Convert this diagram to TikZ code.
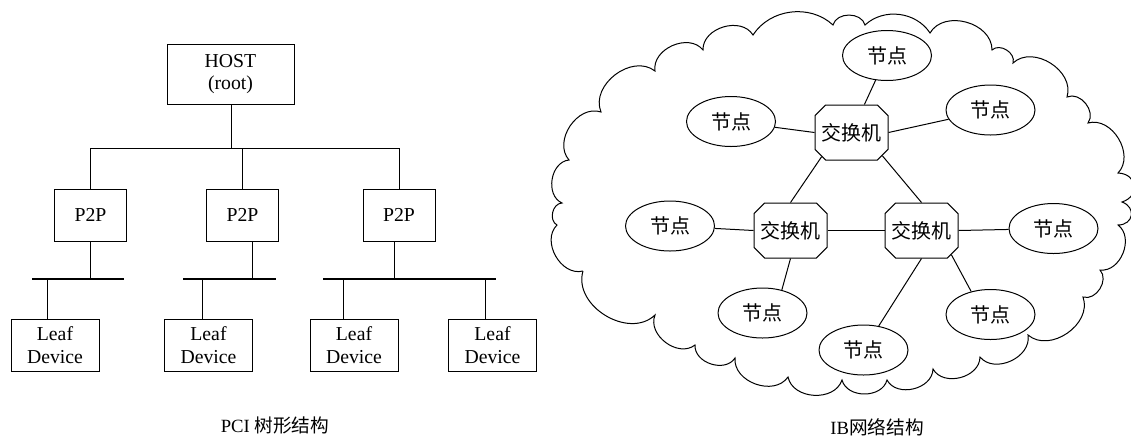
\documentclass[tikz,border=0pt]{standalone}
\usepackage{fontspec}
\setmainfont{Liberation Serif}
\newfontfamily\cjk{Noto Sans CJK SC}
\usetikzlibrary{shapes.geometric,shapes.misc}

\begin{document}
\begin{tikzpicture}[x=0.75pt,y=-0.75pt,
  line width=0.75pt,
  latin/.style={font=\fontsize{14.8}{17}\selectfont},
  hanzi/.style={font=\fontsize{15}{18}\selectfont\cjk},
  box/.style={draw, rectangle, inner sep=0pt, align=center, latin},
  hostbox/.style={box, minimum width=127*0.75pt, minimum height=60*0.75pt},
  p2pbox/.style={box, minimum width=72*0.75pt, minimum height=52*0.75pt},
  leafbox/.style={box, minimum width=88*0.75pt, minimum height=52*0.75pt},
  bus/.style={line width=1.8pt},
  switchbox/.style={draw, chamfered rectangle, chamfered rectangle xsep=4pt,
    chamfered rectangle ysep=4pt, inner sep=0pt,
    minimum width=73*0.75pt, minimum height=55*0.75pt, hanzi},
  hostnode/.style={draw, ellipse, inner sep=0pt,
    minimum width=89*0.75pt, minimum height=50*0.75pt, hanzi},
  cloudline/.style={line width=0.75pt},
  puff/.style={bend left=75, looseness=1.1},
  bigpuff/.style={bend left=80, looseness=1.7},
  flatpuff/.style={bend left=50, looseness=1},
  caption/.style={font=\fontsize{14}{17}\selectfont}
]
\useasboundingbox (0,0) rectangle (1131,437);

% ---------- PCI tree ----------
\node[hostbox] (host) at (230.5,74) {HOST\\(root)};
\node[p2pbox] (p1) at (90.5,215) {P2P};
\node[p2pbox] (p2) at (242.5,215) {P2P};
\node[p2pbox] (p3) at (399,215) {P2P};
\node[leafbox] (l1) at (55,345) {Leaf\\Device};
\node[leafbox] (l2) at (208.5,345) {Leaf\\Device};
\node[leafbox] (l3) at (354,345) {Leaf\\Device};
\node[leafbox] (l4) at (492.5,345) {Leaf\\Device};

% distribution line below the host
\coordinate (hj) at (231,148);
\draw (hj |- host.south) -- (hj);
\draw (p1.north |- hj) -- (p3.north |- hj);
\foreach \p in {p1,p2,p3} \draw (\p.north) -- (\p.north |- hj);

% buses
\coordinate (b1a) at (32,279);  \coordinate (b1b) at (124,279);
\coordinate (b2a) at (183,279); \coordinate (b2b) at (276,279);
\coordinate (b3a) at (323,279); \coordinate (b3b) at (496,279);
\draw[bus] (b1a) -- (b1b);
\draw[bus] (b2a) -- (b2b);
\draw[bus] (b3a) -- (b3b);

% taps from the bridges onto the buses
\coordinate (u1) at (90,279);
\coordinate (u2) at (252,279);
\coordinate (u3) at (394,279);
\draw (u1 |- p1.south) -- (u1);
\draw (u2 |- p2.south) -- (u2);
\draw (u3 |- p3.south) -- (u3);

% taps from the buses down to the leaves
\coordinate (t1) at (47,279);
\coordinate (t2) at (202,279);
\coordinate (t3) at (343,279);
\coordinate (t4) at (485,279);
\draw (t1) -- (t1 |- l1.north);
\draw (t2) -- (t2 |- l2.north);
\draw (t3) -- (t3 |- l3.north);
\draw (t4) -- (t4 |- l4.north);

\node[caption] (capa) at (275,425) {PCI {\cjk 树形结构}};

% ---------- IB fabric ----------
\draw[cloudline]
  (583,271) to[puff] (557,225) to[puff] (562,203) to[puff] (569,160)
  to[puff] (601,112) to[puff] (655,71) to[puff] (703,50) to[puff] (753,35)
  to[flatpuff] (833,25) to[puff] (865,25) to[flatpuff] (930,33)
  to[puff] (992,50) to[puff] (1013,63) to[puff] (1067,97) to[puff] (1088,123)
  to[puff] (1118,173) to[bigpuff] (1122,202) to[bigpuff] (1118,225)
  to[puff] (1100,270) to[puff] (1083,297) to[puff] (1028,335) to[puff] (980,357)
  to[puff] (933,369) to[puff] (887,380) to[puff] (842,380) to[puff] (788,377)
  to[puff] (735,358) to[puff] (695,345) to[puff] (655,315) to[puff] (583,271);

\node[switchbox] (swt) at (851.5,132.5) {交换机};
\node[switchbox] (swl) at (790.5,230.5) {交换机};
\node[switchbox] (swr) at (921.5,230.5) {交换机};

\node[hostnode] (nt)  at (887,55.5)    {节点};
\node[hostnode] (nul) at (731,121.5)   {节点};
\node[hostnode] (nur) at (990.5,110)   {节点};
\node[hostnode] (nl)  at (670,226)     {节点};
\node[hostnode] (nr)  at (1053.5,228.5){节点};
\node[hostnode] (nbl) at (762.5,313)   {节点};
\node[hostnode] (nbr) at (990.5,314.5) {节点};
\node[hostnode] (nb)  at (863.5,350)   {节点};

\draw (nt) -- (swt);
\draw (nul) -- (swt.west);
\draw (swt.east) -- (nur);
\draw (swt.219) -- (swl.north);
\draw (swt.323) -- (swr.north);
\draw (swl.east) -- (swr.west);
\draw (nl) -- (swl.west);
\draw (swr.east) -- (nr);
\draw (swl.south) -- (nbl.50);
\draw (swr.south) -- (nb);
\draw (swr.321) -- (nbr.130);

\node[caption] (capb) at (877,427) {IB{\cjk 网络结构}};
\end{tikzpicture}
\end{document}
